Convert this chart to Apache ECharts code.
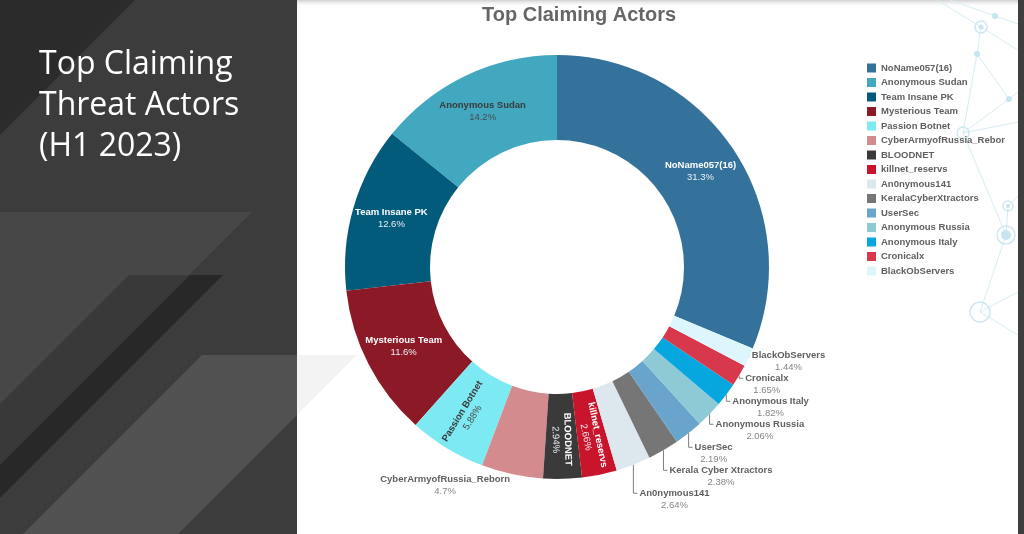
<!DOCTYPE html>
<html>
<head>
<meta charset="utf-8">
<script src="https://cdn.jsdelivr.net/npm/echarts@6/dist/echarts.min.js"></script>
<style>
  html, body { margin: 0; padding: 0; background: #fff; }
  #chart { width: 1024px; height: 534px; }
</style>
</head>
<body>
<div id="chart"></div>
<script>
// legend names, in legend order (largest first)
const actors = [
  'NoName057(16)', 'Anonymous Sudan', 'Team Insane PK', 'Mysterious Team', 'Passion Botnet',
  'CyberArmyofRussia_Reborn', 'BLOODNET', 'killnet_reservs', 'An0nymous141', 'KeralaCyberXtractors',
  'UserSec', 'Anonymous Russia', 'Anonymous Italy', 'Cronicalx', 'BlackObServers'
]
// names as written on the slice labels
const labelNames = [
  'NoName057(16)', 'Anonymous Sudan', 'Team Insane PK', 'Mysterious Team', 'Passion Botnet',
  'CyberArmyofRussia_Reborn', 'BLOODNET', 'killnet_reservs', 'An0nymous141', 'Kerala Cyber Xtractors',
  'UserSec', 'Anonymous Russia', 'Anonymous Italy', 'Cronicalx', 'BlackObServers'
]
// share of claims, %
const shares = [31.3, 14.2, 12.6, 11.6, 5.88, 4.7, 2.94, 2.66, 2.64, 2.38, 2.19, 2.06, 1.82, 1.65, 1.44]
const colors = [
  '#34729c', '#41a8c0', '#035b7b', '#8b1a26', '#7de9f2',
  '#d38b8d', '#3a3a3a', '#c8152b', '#dce7ee', '#767676',
  '#69a4cc', '#8ecad6', '#06a6df', '#d8384b', '#dcf6fb'
]

const CX = 557, CY = 267, R_IN = 127, R_OUT = 212
const total = shares.reduce((a, b) => a + b, 0)
// NoName starts at 12 o'clock going clockwise, the rest run anticlockwise from 12
const startAngle = 90 - 360 * shares[0] / total

const edgePoint = (i) => {
  let acc = 0
  for (let k = 0; k < i; k++) acc += shares[k]
  const a = (startAngle + 360 * (acc + shares[i] / 2) / total) * Math.PI / 180
  return [CX + R_OUT * Math.cos(a), CY - R_OUT * Math.sin(a)]
}

const insideLight = [0, 2, 3, 6, 7]
const insideDark = [1, 4]
const radial = [4, 6, 7]

const labelFor = (i) => {
  const font = { fontFamily: 'Liberation Sans', fontSize: 9.5, lineHeight: 12, align: 'center' }
  if (insideLight.includes(i) || insideDark.includes(i)) {
    const light = insideLight.includes(i)
    return {
      position: 'inside',
      rotate: radial.includes(i) ? 'radial' : 0,
      rich: {
        n: { ...font, fontWeight: 'bold', color: light ? '#ffffff' : '#3a3a3a' },
        p: { ...font, color: light ? '#e9eef2' : '#4a4a4a' }
      }
    }
  }
  return {
    position: 'outside',
    rich: {
      n: { ...font, fontWeight: 'bold', color: '#5f5f5f' },
      p: { ...font, color: '#858585' }
    }
  }
}

const chart = echarts.init(document.getElementById('chart'), null, { renderer: 'canvas' })

const netLines = [
  [[937, 0], [981, 27]], [[950, 0], [995, 16]], [[995, 16], [1018, 24]], [[981, 27], [1018, 50]],
  [[981, 27], [977, 54]], [[977, 54], [1009, 99]], [[977, 54], [963, 133]], [[1009, 99], [1018, 92]],
  [[1009, 99], [963, 133]], [[963, 133], [1018, 122]], [[963, 133], [1006, 235]], [[1006, 235], [1008, 206]],
  [[1008, 206], [1018, 196]], [[1006, 235], [980, 312]], [[980, 312], [1018, 292]], [[980, 312], [1018, 335]]
]

const decor = [
  { type: 'rect', shape: { x: 0, y: 0, width: 297, height: 534 }, style: { fill: '#3c3c3c' } },
  { type: 'polygon', shape: { points: [[0, 0], [135, 0], [0, 135]] }, style: { fill: '#2b2b2b' } },
  { type: 'polygon', shape: { points: [[0, 212], [252, 212], [0, 464]] }, style: { fill: '#474747' } },
  { type: 'polygon', shape: { points: [[129, 275], [190, 275], [0, 465], [0, 404]] }, style: { fill: '#393939' } },
  { type: 'polygon', shape: { points: [[190, 275], [223, 275], [0, 498], [0, 465]] }, style: { fill: '#282828' } },
  { type: 'polygon', shape: { points: [[202, 355], [297, 355], [297, 415], [178, 534], [23, 534]] }, style: { fill: '#515151' } },
  { type: 'polygon', shape: { points: [[297, 355], [357, 355], [297, 415]] }, style: { fill: '#f3f3f3' } },
  {
    type: 'rect', shape: { x: 297, y: 0, width: 721, height: 7 },
    style: { fill: new echarts.graphic.LinearGradient(0, 0, 0, 1, [
      { offset: 0, color: '#cfcfcf' }, { offset: 1, color: 'rgba(255,255,255,0)' }
    ]) }
  },
  { type: 'rect', shape: { x: 1018, y: 0, width: 6, height: 534 }, style: { fill: '#3e3e3e' } },
  {
    type: 'text', x: 39, y: 44,
    style: {
      text: 'Top Claiming\nThreat Actors\n(H1 2023)', fill: '#ffffff',
      font: '32px "Open Sans"', lineHeight: 41
    }
  }
]
netLines.forEach(([a, b]) => decor.push({
  type: 'line', shape: { x1: a[0], y1: a[1], x2: b[0], y2: b[1] },
  style: { stroke: '#d6edf3', lineWidth: 1 }
}))
;[[995, 16, 3], [977, 54, 3], [1009, 99, 3], [981, 27, 2.5], [1008, 206, 2], [1006, 235, 5]].forEach(([x, y, r]) =>
  decor.push({ type: 'circle', shape: { cx: x, cy: y, r }, style: { fill: '#c6e5ee' } }))
;[[981, 27, 6], [963, 133, 6], [1008, 206, 5], [1006, 235, 9], [980, 312, 10]].forEach(([x, y, r]) =>
  decor.push({ type: 'circle', shape: { cx: x, cy: y, r }, style: { fill: 'none', stroke: '#cde8f0', lineWidth: 1.5 } }))

const option = {
  backgroundColor: '#ffffff',
  animation: false,
  graphic: decor,
  title: {
    text: 'Top Claiming Actors',
    left: 482,
    top: 5,
    padding: 0,
    textStyle: { fontFamily: 'Liberation Sans', fontSize: 20, fontWeight: 'bold', color: '#666666' }
  },
  legend: {
    orient: 'vertical',
    left: 862,
    top: 57,
    itemWidth: 9,
    itemHeight: 9,
    itemGap: 2.5,
    icon: 'rect',
    textStyle: {
      fontFamily: 'Liberation Sans', fontSize: 9.5, fontWeight: 'bold', color: '#5f5f5f',
      lineHeight: 12, padding: [0, 0, 0, 0], width: 127, overflow: 'truncate', ellipsis: ''
    }
  },
  series: [
    {
      type: 'pie',
      center: [CX, CY],
      radius: [R_IN, R_OUT],
      startAngle: startAngle,
      clockwise: false,
      avoidLabelOverlap: false,
      label: {
        show: true,
        formatter: (p) => `{n|${labelNames[p.dataIndex]}}\n{p|${p.value}%}`
      },
      labelLine: { show: true, lineStyle: { color: '#7f7f7f', width: 1 } },
      labelLayout: (p) => {
        const i = p.dataIndex
        const [ex, ey] = edgePoint(i)
        if (i === 5) return { x: ex - 2, y: ey - 1, align: 'right', verticalAlign: 'top' }
        if (i < 8) return {}
        const ly = edgePoint(14)[1] - 2 + 23 * (14 - i)
        return {
          x: ex + (i === 14 ? 3 : 6), y: ly - 6, align: 'left', verticalAlign: 'top',
          labelLinePoints: [[ex, ey], [ex, ly], [ex + (i === 14 ? 0 : 4), ly]]
        }
      },
      emphasis: { disabled: true },
      data: actors.map((name, i) => ({
        name,
        value: shares[i],
        itemStyle: { color: colors[i] },
        label: labelFor(i),
        labelLine: { show: i >= 8 }
      }))
    }
  ]
}

chart.setOption(option)
</script>
</body>
</html>
